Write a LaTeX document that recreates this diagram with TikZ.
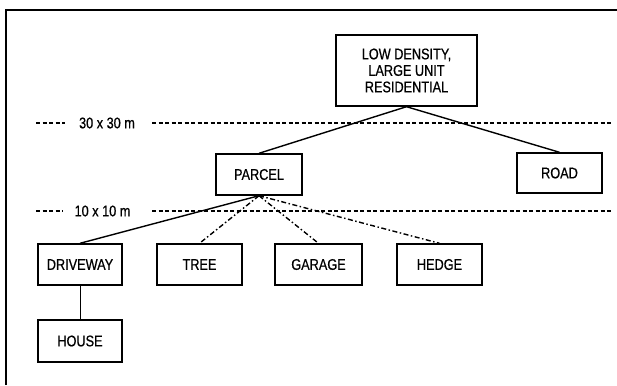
\documentclass[tikz,border=0pt]{standalone}
\usepackage{fontspec}
\setmainfont{Liberation Sans}[FakeStretch=0.82,FakeBold=0.6]
\begin{document}
\begin{tikzpicture}[x=1pt,y=-1pt,
  box/.style={draw,line width=1.4pt,inner sep=0pt,font=\fontsize{15.5}{16.5}\selectfont,align=center},
  link/.style={line width=1.4pt},
  linkdd/.style={line width=1.4pt,dash pattern=on 5pt off 2.5pt on 1.5pt off 2.5pt},
  guide/.style={line width=1.3pt,dash pattern=on 4pt off 2.5pt},
  glabel/.style={font=\fontsize{15.5}{16.5}\selectfont,inner sep=0pt}]
\useasboundingbox (0,0) rectangle (617,385);
\fill[white] (0,0) rectangle (617,385);
% frame
\coordinate (f1) at (6,385);
\coordinate (f2) at (6,10);
\coordinate (f3) at (617,10);
\draw[line width=1.5pt] (f1) -- (f2) -- (f3);
% guide lines
\coordinate (g1a) at (36,123);
\coordinate (g1b) at (65,123);
\coordinate (g1c) at (152,123);
\coordinate (g1d) at (611,123);
\coordinate (g2a) at (36,211);
\coordinate (g2b) at (63,211);
\coordinate (g2c) at (152,211);
\coordinate (g2d) at (611,211);
\draw[guide] (g1a) -- (g1b);
\draw[guide] (g1c) -- (g1d);
\draw[guide] (g2a) -- (g2b);
\draw[guide] (g2c) -- (g2d);
\node[glabel] (l30) at (107,123) {30 x 30 m};
\node[glabel] (l10) at (102.5,211) {10 x 10 m};
% boxes
\node[box,minimum width=141pt,minimum height=71pt] (top) at (406.5,70.5) {LOW DENSITY,\\LARGE UNIT\\RESIDENTIAL};
\node[box,minimum width=86pt,minimum height=41pt] (parcel) at (259,174.5) {PARCEL};
\node[box,minimum width=85pt,minimum height=40pt] (road) at (559.5,173) {ROAD};
\node[box,minimum width=84pt,minimum height=41pt] (drive) at (80,264.5) {DRIVEWAY};
\node[box,minimum width=85pt,minimum height=41pt] (tree) at (199.5,264.5) {TREE};
\node[box,minimum width=87pt,minimum height=41pt] (garage) at (318.5,264.5) {GARAGE};
\node[box,minimum width=85pt,minimum height=41pt] (hedge) at (439.5,264.5) {HEDGE};
\node[box,minimum width=84pt,minimum height=42pt] (house) at (80,341) {HOUSE};
% connectors
\draw[link] (top.south) -- (parcel.north);
\draw[link] (top.south) -- (road.north);
\draw[link] (parcel.south) -- (drive.north);
\draw[linkdd] (parcel.south) -- (tree.north);
\draw[linkdd] (parcel.south) -- (garage.north);
\draw[linkdd] (parcel.south) -- (hedge.north);
\draw[line width=1pt] (drive.south) -- (house.north);
\end{tikzpicture}
\end{document}
